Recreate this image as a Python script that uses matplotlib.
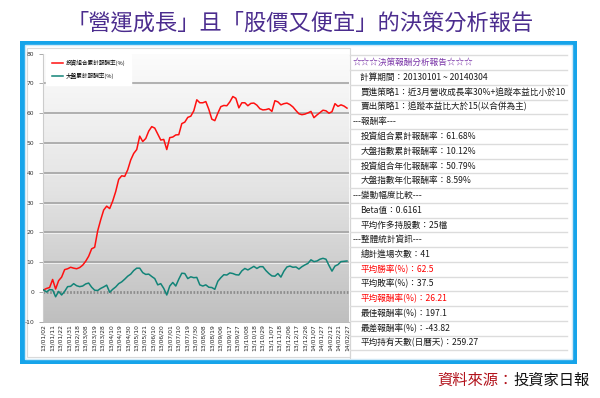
import numpy as np
import matplotlib
matplotlib.use("Agg")
import matplotlib.pyplot as plt
from matplotlib.colors import LinearSegmentedColormap
from matplotlib.patches import Rectangle

plt.rcParams['font.family'] = ['Noto Sans CJK TC', 'DejaVu Sans']

# ---------------- data ----------------
title = "「營運成長」且「股價又便宜」的決策分析報告"
series_names = ["投資組合累計報酬率(%)", "大盤累計報酬率(%)"]

portfolio = [0.7, 1.2, 1.5, 4.2, 1.0, 3.8, 5.0, 7.5, 7.8, 8.3, 8.0, 7.8, 8.2, 9.0,
             10.3, 12.0, 14.5, 15.0, 20.5, 24.2, 27.5, 28.8, 28.0, 30.5, 33.7, 37.8,
             39.0, 38.8, 41.0, 44.3, 46.5, 47.8, 52.3, 50.5, 51.5, 54.0, 55.5, 55.0,
             53.0, 51.0, 51.2, 47.8, 51.8, 52.0, 52.7, 52.8, 56.5, 57.0, 58.6, 59.0,
             60.8, 64.5, 63.5, 63.5, 63.9, 61.3, 58.0, 57.5, 60.0, 62.2, 62.6, 62.5,
             63.8, 65.6, 65.0, 61.8, 63.5, 63.5, 62.5, 63.3, 63.4, 62.7, 61.5, 61.1,
             61.2, 61.5, 60.6, 64.2, 63.8, 62.8, 63.2, 63.4, 62.9, 62.1, 60.9, 59.8,
             59.5, 59.7, 60.1, 60.6, 58.5, 59.4, 60.2, 61.0, 60.8, 60.0, 60.5, 63.2,
             62.3, 62.8, 62.4, 61.7]

market = [0.7, 0.0, 0.8, 0.7, -1.6, 0.2, -1.0, 0.2, 1.8, 1.9, 2.8, 2.1, 1.8, 2.0,
          2.7, 3.0, 1.6, 0.6, 0.5, 1.2, 1.7, 2.3, -0.1, 0.9, 1.7, 2.8, 3.4, 4.3,
          5.3, 6.0, 7.2, 8.0, 8.0, 6.5, 5.9, 6.0, 5.2, 4.5, 2.4, 2.8, 1.2, -1.0,
          2.0, 3.2, 2.0, 4.3, 6.3, 6.2, 4.5, 5.1, 4.8, 4.9, 2.4, 2.0, 2.4, 1.6,
          1.5, 0.9, 3.6, 4.8, 5.8, 5.7, 6.4, 6.2, 5.8, 5.7, 7.1, 7.9, 7.4, 8.0,
          8.6, 7.9, 8.5, 8.5, 7.2, 6.2, 5.4, 5.3, 6.2, 5.0, 7.0, 8.4, 8.7, 8.3,
          8.4, 7.7, 8.5, 9.1, 9.6, 10.8, 10.2, 10.4, 11.0, 11.3, 11.0, 8.9, 7.0,
          8.7, 9.2, 10.2, 10.3, 10.4]

x_labels = ["13/01/02", "13/01/11", "13/01/22", "13/01/31", "13/02/18", "13/03/08",
            "13/03/19", "13/03/28", "13/04/10", "13/04/19", "13/04/30", "13/05/10",
            "13/05/21", "13/06/10", "13/06/20", "13/07/01", "13/07/10", "13/07/19",
            "13/07/30", "13/08/08", "13/08/19", "13/09/06", "13/09/17", "13/09/27",
            "13/10/08", "13/10/18", "13/10/29", "13/11/07", "13/11/18", "13/12/06",
            "13/12/17", "13/12/26", "14/01/07", "14/01/27", "14/02/12", "14/02/21",
            "14/02/27"]

y_ticks = [-10, 0, 10, 20, 30, 40, 50, 60, 70, 80]

report_rows = [
    "☆☆☆決策報酬分析報告☆☆☆",
    "計算期間：20130101 ~ 20140304",
    "買進策略1：近3月營收成長率30%+追蹤本益比小於10",
    "賣出策略1：追蹤本益比大於15(以合併為主)",
    "---報酬率---",
    "投資組合累計報酬率：61.68%",
    "大盤指數累計報酬率：10.12%",
    "投資組合年化報酬率：50.79%",
    "大盤指數年化報酬率：8.59%",
    "---變動幅度比較---",
    "Beta值：0.6161",
    "平均作多持股數：25檔",
    "---整體統計資訊---",
    "總計進場次數：41",
    "平均勝率(%)：62.5",
    "平均敗率(%)：37.5",
    "平均報酬率(%)：26.21",
    "最佳報酬率(%)：197.1",
    "最差報酬率(%)：-43.82",
    "平均持有天數(日曆天)：259.27",
]
red_rows = ["平均勝率(%)：62.5", "平均報酬率(%)：26.21"]
source_label = "資料來源："
source_name = "投資家日報"

# ---------------- figure ----------------
W, H = 600, 398
fig = plt.figure(figsize=(W / 100, H / 100), dpi=100)
fig.patch.set_facecolor('white')


def fx(px):
    return px / W


def fy(py):
    return 1 - py / H


# title
fig.text(fx(300), fy(23), title, ha='center', va='center', fontsize=16,
         color='#4B2C8E')

# blue frame + white panel
fig.patches.append(Rectangle((fx(20), fy(364)), fx(577) - fx(20), fy(41) - fy(364),
                             transform=fig.transFigure, facecolor='#16A4EA',
                             edgecolor='none', zorder=0))
fig.patches.append(Rectangle((fx(25), fy(359)), fx(571.5) - fx(25), fy(45) - fy(359),
                             transform=fig.transFigure, facecolor='white',
                             edgecolor='#CFE9F7', lw=1.0, zorder=0.5))
# chart control border
fig.patches.append(Rectangle((fx(27.5), fy(357)), fx(349.5) - fx(27.5), fy(47.5) - fy(357),
                             transform=fig.transFigure, facecolor='none',
                             edgecolor='#DADADA', lw=0.8, zorder=0.6))

# ---------------- chart ----------------
ax_l, ax_r, ax_t, ax_b = 42.7, 348.5, 53.6, 321.8
ax = fig.add_axes([fx(ax_l), fy(ax_b), fx(ax_r) - fx(ax_l), fy(ax_t) - fy(ax_b)])
ax.set_zorder(3)
n = len(portfolio)
xs = np.arange(n)
ax.set_xlim(-0.3, n - 1 + 0.5)
ax.set_ylim(y_ticks[0], y_ticks[-1])

cmap = LinearSegmentedColormap.from_list('bg', ['#FCFCFC', '#E4E4E4', '#BFBFBF'])
grad = np.linspace(0, 1, 256).reshape(-1, 1)
ax.imshow(grad, extent=[-0.3, n - 0.5, y_ticks[0], y_ticks[-1]], aspect='auto',
          cmap=cmap, zorder=0, origin='upper', vmin=0, vmax=1)

for v in y_ticks[1:-1]:
    if v == 0:
        ax.axhline(v, color='#8C8C8C', lw=2.0, ls=(0, (0.6, 0.6)), zorder=1)
    else:
        ax.axhline(v, color='#9E9E9E', lw=1.1, zorder=1)
        ax.axhline(v - 0.35, color='#F4F4F4', lw=0.6, zorder=1)

ax.plot(xs, portfolio, color='#FF1010', lw=1.1, zorder=3, label=series_names[0])
ax.plot(xs, market, color='#128478', lw=1.1, zorder=3, label=series_names[1])

ax.set_yticks(y_ticks)
ax.set_yticklabels([str(v) for v in y_ticks], fontsize=4.3, family='DejaVu Sans',
                   color='#333333')
tick_pos = np.linspace(0, n - 1, len(x_labels))
ax.set_xticks(tick_pos)
ax.set_xticklabels(x_labels, rotation=90, fontsize=4.3, family='DejaVu Sans',
                   color='#222222')
ax.tick_params(axis='y', length=3, width=0.5, color='#888888', pad=3)
ax.tick_params(axis='x', length=0, pad=1.5)
for s in ['top', 'right']:
    ax.spines[s].set_visible(False)
ax.spines['left'].set_color('#CCCCCC')
ax.spines['left'].set_linewidth(0.8)
ax.spines['bottom'].set_color('#B0B0B0')
ax.spines['bottom'].set_linewidth(0.6)

leg = ax.legend(loc='upper left', bbox_to_anchor=(0.012, 1.0), fontsize=4.1,
                frameon=True, fancybox=False, framealpha=1, edgecolor='white',
                facecolor='white', handlelength=2.0, handletextpad=0.4,
                borderpad=1.0, labelspacing=1.3, borderaxespad=0.0)
leg.set_zorder(5)

# ---------------- report table ----------------
tab_l, tab_r = 350, 567
row0, row_h = 62.7, 14.75
fig.lines.append(plt.Line2D([fx(tab_l), fx(tab_l)], [fy(row0 - row_h / 2), fy(358)],
                            transform=fig.transFigure, color='#D5D5D5', lw=0.8))
for i, txt in enumerate(report_rows):
    yc = row0 + i * row_h
    ybot = yc + row_h / 2
    fig.lines.append(plt.Line2D([fx(tab_l), fx(tab_r)], [fy(ybot), fy(ybot)],
                                transform=fig.transFigure, color='#DCDCDC', lw=1.0))
    if i == 0:
        color, xpos = '#7A35A8', 352.5
    elif txt.startswith('---'):
        color, xpos = '#222222', 352.5
    else:
        color, xpos = ('#FF0000' if txt in red_rows else '#1A1A1A'), 360.5
    fig.text(fx(xpos), fy(yc), txt, ha='left', va='center', fontsize=6.2, color=color)
fig.lines.append(plt.Line2D([fx(tab_l), fx(tab_r)], [fy(row0 - row_h / 2)] * 2,
                            transform=fig.transFigure, color='#DCDCDC', lw=1.0))

# source
t1 = fig.text(fx(437), fy(380), source_label, ha='left', va='center', fontsize=11,
              color='#B2121B')
fig.canvas.draw()
bb = t1.get_window_extent()
fig.text(bb.x1 / fig.dpi / fig.get_figwidth(), fy(380), source_name, ha='left',
         va='center', fontsize=11, color='#111111')

fig.savefig('out.png', dpi=100, facecolor='white')
